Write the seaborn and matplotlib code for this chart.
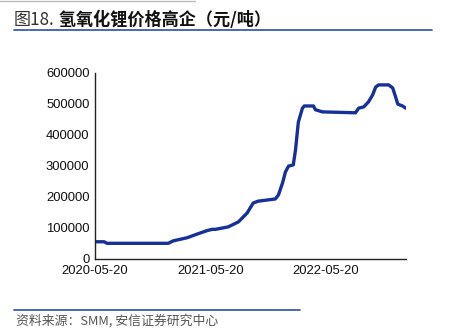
import matplotlib
matplotlib.use("Agg")
import matplotlib.pyplot as plt
import matplotlib.dates as mdates
from matplotlib.lines import Line2D
import pandas as pd
import seaborn as sns

# Lithium hydroxide price (CNY/tonne)
dates = [
    "2020-05-20", "2020-06-18", "2020-06-27", "2021-01-07", "2021-01-23",
    "2021-03-08", "2021-04-09", "2021-05-10", "2021-05-26", "2021-06-05",
    "2021-07-16", "2021-08-17", "2021-09-14", "2021-10-03", "2021-10-19",
    "2021-12-12", "2021-12-22", "2022-01-04", "2022-01-13", "2022-01-23",
    "2022-02-07", "2022-02-14", "2022-02-23", "2022-03-08", "2022-03-14",
    "2022-04-12", "2022-04-18", "2022-05-10", "2022-08-23", "2022-09-02",
    "2022-09-18", "2022-10-03", "2022-10-16", "2022-10-26", "2022-11-04",
    "2022-12-06", "2022-12-19", "2022-12-28", "2023-01-04", "2023-01-19",
    "2023-01-29",
]
prices = [
    54000, 54000, 49000, 49000, 57000,
    67000, 79000, 90000, 94000, 94000,
    102000, 118000, 147000, 179000, 185000,
    192000, 205000, 244000, 279000, 298000,
    302000, 350000, 440000, 485000, 492000,
    492000, 480000, 473000, 470000, 485000,
    489000, 505000, 527000, 553000, 560000,
    560000, 550000, 521000, 498000, 492000,
    485000,
]
tick_dates = ["2020-05-20", "2021-05-20", "2022-05-20"]
y_ticks = [0, 100000, 200000, 300000, 400000, 500000, 600000]

title_prefix = "图18."
title_main = "氢氧化锂价格高企（元/吨）"
source_text = "资料来源：SMM, 安信证券研究中心"

sns.set_theme(style="white")
plt.rcParams["font.family"] = ["Liberation Sans", "Noto Sans CJK SC", "DejaVu Sans"]

df = pd.DataFrame({"date": pd.to_datetime(dates), "price": prices})

W, H = 452, 332
fig = plt.figure(figsize=(W / 100, H / 100), dpi=100)
ax = fig.add_axes([95 / W, 1 - 258.5 / H, (405.7 - 95) / W, (258.5 - 72.5) / H])

sns.lineplot(data=df, x="date", y="price", ax=ax, color="#16309a",
             linewidth=2.4, solid_joinstyle="round", solid_capstyle="round")

ax.set_xlim(df["date"].iloc[0], df["date"].iloc[-1])
ax.set_ylim(0, 600000)
ax.set_yticks(y_ticks)
ax.set_yticklabels([str(v) for v in y_ticks])
ax.set_xticks(pd.to_datetime(tick_dates))
ax.xaxis.set_major_formatter(mdates.DateFormatter("%Y-%m-%d"))
ax.set_xlabel("")
ax.set_ylabel("")

for side in ("top", "right"):
    ax.spines[side].set_visible(False)
for side in ("left", "bottom"):
    ax.spines[side].set_color("#222222")
    ax.spines[side].set_linewidth(1.0)
ax.tick_params(axis="both", direction="in", length=4, width=1.0,
               color="#222222", labelsize=9.4, labelcolor="#111111", pad=4)
ax.tick_params(axis="x", pad=5)

# Header
cjk = ["Noto Sans CJK SC", "DejaVu Sans"]
t1 = fig.text(14 / W, 1 - 24.5 / H, title_prefix, family=cjk, fontsize=12.3,
              color="#333333", ha="left", va="baseline")
ax.annotate(" " + title_main, xy=(1, 0), xycoords=t1, ha="left", va="bottom",
            family=cjk, fontsize=12.3, fontweight="bold", color="#111111",
            annotation_clip=False)
fig.add_artist(Line2D([14 / W, 432 / W], [1 - 30 / H, 1 - 30 / H],
                      color="#2a4fa8", linewidth=1.2))
fig.add_artist(Line2D([0, 195 / W], [1 - 0.8 / H, 1 - 0.8 / H],
                      color="#bbbbbb", linewidth=1.0))

# Footer
fig.add_artist(Line2D([14 / W, 300 / W], [1 - 310 / H, 1 - 310 / H],
                      color="#2a4fa8", linewidth=1.2))
fig.text(16 / W, 1 - 320.5 / H, source_text, family=cjk, fontsize=9.3,
         color="#555555", style="italic", ha="left", va="center")

fig.savefig("out.png", dpi=100)
